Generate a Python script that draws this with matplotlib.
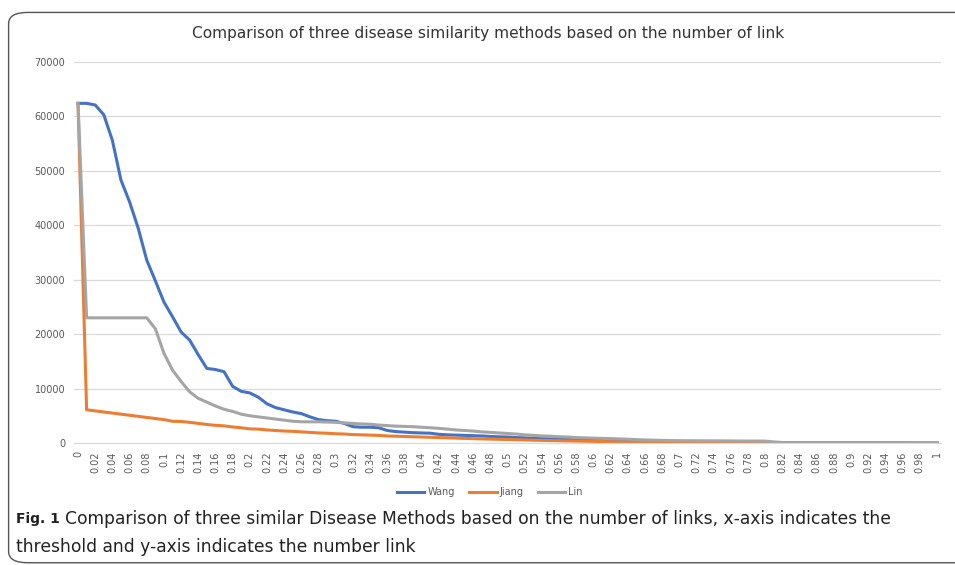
"""
Comparison of three disease similarity methods (number of links vs threshold)
"""

import matplotlib.pyplot as plt
from matplotlib.patches import FancyBboxPatch

# Thresholds 0.00 .. 1.00 (one category per 0.01)
thresholds = [round(i / 100, 2) for i in range(101)]

wang = [62400, 62400, 62100, 60300, 55600, 48300, 44300, 39500, 33600, 29800,
        25900, 23200, 20400, 18900, 16200, 13700, 13500, 13100, 10400, 9500,
        9200, 8400, 7200, 6500, 6100, 5700, 5400, 4800, 4300, 4100,
        4000, 3600, 3000, 2900, 2900, 2800, 2300, 2100, 2000, 1900,
        1850, 1800, 1600, 1500, 1450, 1400, 1350, 1300, 1200, 1150,
        1100, 1000, 950, 850, 800, 750, 700, 650, 600, 550,
        500, 450, 420, 400, 380, 350, 300, 280, 250, 230,
        200, 180, 160, 150, 140, 130, 120, 110, 100, 90,
        80, 70, 60, 50, 50, 40, 40, 30, 30, 30,
        20, 20, 20, 10, 10, 10, 10, 0, 0, 0, 0]

jiang = [62400, 6100, 5900, 5700, 5500, 5300, 5100, 4900, 4700, 4500,
         4300, 4000, 3950, 3800, 3600, 3400, 3250, 3150, 2950, 2800,
         2600, 2550, 2400, 2300, 2200, 2150, 2050, 1950, 1850, 1800,
         1700, 1650, 1550, 1500, 1450, 1400, 1300, 1250, 1200, 1150,
         1100, 1050, 1000, 950, 900, 850, 800, 760, 720, 680,
         640, 600, 560, 520, 480, 450, 420, 390, 360, 330,
         300, 270, 240, 210, 190, 170, 150, 130, 110, 90,
         70, 50, 30, 20, 10, 10, 0, 0, 0, 0,
         0, 0, 0, 0, 0, 0, 0, 0, 0, 0,
         0, 0, 0, 0, 0, 0, 0, 0, 0, 0, 0]

lin = [62400, 23000, 23000, 23000, 23000, 23000, 23000, 23000, 23000, 21000,
       16500, 13400, 11300, 9400, 8200, 7500, 6800, 6200, 5800, 5300,
       5000, 4800, 4600, 4400, 4200, 4000, 3900, 3900, 3900, 3850,
       3800, 3700, 3600, 3500, 3450, 3300, 3200, 3100, 3050, 3000,
       2900, 2800, 2700, 2550, 2400, 2300, 2200, 2050, 1950, 1850,
       1750, 1650, 1500, 1400, 1300, 1250, 1150, 1100, 1000, 950,
       900, 850, 800, 750, 700, 620, 560, 520, 480, 450,
       430, 420, 410, 400, 400, 390, 380, 370, 360, 360,
       350, 200, 100, 50, 50, 50, 50, 50, 50, 50,
       50, 50, 50, 50, 50, 50, 50, 50, 50, 50, 50]

series = [('Wang', wang, '#4472C4'),
          ('Jiang', jiang, '#ED7D31'),
          ('Lin', lin, '#A5A5A5')]

title = 'Comparison of three disease similarity methods based on the number of link'
caption_1 = ('Comparison of three similar Disease Methods based on the number '
             'of links, x-axis indicates the')
caption_2 = 'threshold and y-axis indicates the number link'


def main():
    fig = plt.figure(figsize=(9.55, 5.65), dpi=100)
    ax = fig.add_axes([0.0772, 0.2159, 0.9085, 0.6744])

    x = list(range(len(thresholds)))
    for name, values, color in series:
        ax.plot(x, values, color=color, lw=2.2, label=name,
                solid_joinstyle='round')

    ax.set_xlim(-0.5, 100.5)
    ax.set_ylim(0, 70000)
    ax.set_yticks(range(0, 70001, 10000))
    ax.set_xticks(x[::2])
    ax.set_xticklabels([f'{t:g}' for t in thresholds[::2]], rotation=90)
    ax.tick_params(length=0, labelsize=7, colors='#595959', pad=6)
    ax.grid(axis='y', color='#D9D9D9', lw=0.9)
    ax.set_axisbelow(True)
    for side in ['top', 'right', 'left']:
        ax.spines[side].set_visible(False)
    ax.spines['bottom'].set_color('#D9D9D9')

    # Chart title
    fig.text(0.511, 0.94, title, ha='center', va='center',
             fontsize=11.1, color='#333333')

    # Legend below the axis
    fig.legend(loc='center', bbox_to_anchor=(0.513, 0.129), ncol=3,
               frameon=False, fontsize=7, handlelength=2.8,
               columnspacing=1.5, handletextpad=0.3,
               labelcolor='#595959')

    # Figure caption
    fig.text(0.017, 0.0814, 'Fig. 1', fontsize=10, fontweight='bold',
             va='center', ha='left', color='#222222')
    fig.text(0.068, 0.0814, caption_1, fontsize=12.3,
             va='center', ha='left', color='#222222')
    fig.text(0.017, 0.0319, caption_2, fontsize=12.3,
             va='center', ha='left', color='#222222')

    # Rounded frame round the whole figure
    frame = FancyBboxPatch((0.009, 0.004), 1.2, 0.974,
                           boxstyle='round,pad=0,rounding_size=0.02',
                           transform=fig.transFigure, fill=False,
                           ec='#555555', lw=1.0, clip_on=False)
    fig.patches.append(frame)

    fig.savefig('out.png', dpi=100)


if __name__ == '__main__':
    main()
